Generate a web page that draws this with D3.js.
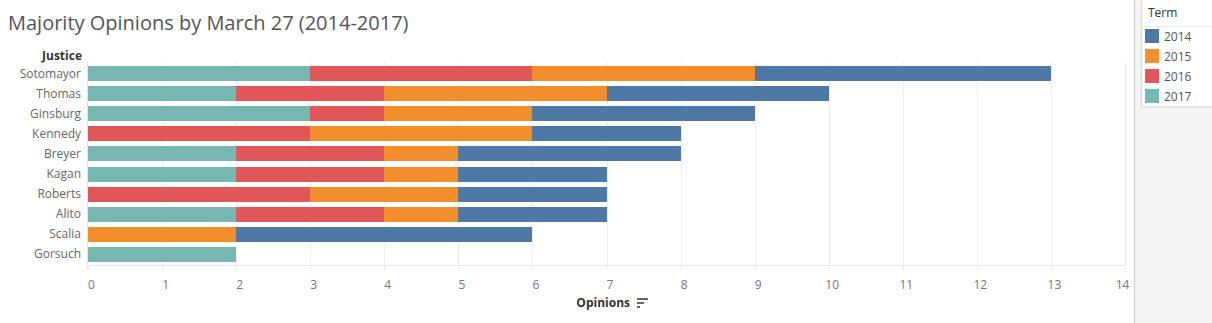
<!DOCTYPE html>
<html>
<head>
<meta charset="utf-8">
<script src="https://d3js.org/d3.v7.min.js"></script>
<style>
  body { margin: 0; background: #fff; }
  svg text { font-family: "Open Sans", "Noto Sans", sans-serif; }
</style>
</head>
<body>
<svg id="chart" width="1212" height="323"></svg>
<script>
"use strict";

// justices, top to bottom
var justices = ["Sotomayor", "Thomas", "Ginsburg", "Kennedy", "Breyer", "Kagan", "Roberts", "Alito", "Scalia", "Gorsuch"];
var terms = ["2014", "2015", "2016", "2017"];
// opinions per term, same order as justices
var t2014 = [4, 3, 3, 2, 3, 2, 2, 2, 4, 0];
var t2015 = [3, 3, 2, 3, 1, 1, 2, 1, 2, 0];
var t2016 = [3, 2, 1, 3, 2, 2, 3, 2, 0, 0];
var t2017 = [3, 2, 3, 0, 2, 2, 0, 2, 0, 2];
var xTicks = d3.range(0, 15);
var termColors = ["#4e79a7", "#f28e2b", "#e15759", "#76b7b2"];

var svg = d3.select("#chart");

// table built from the arrays
var rows = justices.map(function(j, i) {
  return { name: j, "2014": t2014[i], "2015": t2015[i], "2016": t2016[i], "2017": t2017[i] };
});

var color = d3.scaleOrdinal().domain(terms).range(termColors);

var x = d3.scaleLinear().domain([0, 14]).range([88, 1125]);
var y = d3.scaleBand().domain(justices).range([64, 264]).paddingInner(0.25).paddingOuter(0.12);

// stack from left: 2017 first, then 2016, 2015, 2014
var stack = d3.stack().keys(["2017", "2016", "2015", "2014"]);
var series = stack(rows);

// title
svg.append("text")
  .attr("x", 8)
  .attr("y", 30)
  .attr("font-size", "20px")
  .attr("fill", "#555")
  .text("Majority Opinions by March 27 (2014-2017)");

// vertical grid
svg.append("g")
  .selectAll("line")
  .data(xTicks.slice(1))
  .enter()
  .append("line")
  .attr("x1", function(d){ return Math.round(x(d)) + 0.5 })
  .attr("x2", function(d){ return Math.round(x(d)) + 0.5 })
  .attr("y1", 62)
  .attr("y2", 265)
  .attr("stroke", "#efefef");

// left axis line + bottom axis line
svg.append("line")
  .attr("x1", 87.5).attr("x2", 87.5)
  .attr("y1", 62).attr("y2", 270)
  .attr("stroke", "#e6e6e6");
svg.append("line")
  .attr("x1", 88).attr("x2", 1126)
  .attr("y1", 265.5).attr("y2", 265.5)
  .attr("stroke", "#e6e6e6");

// bars
svg.append("g")
  .attr("shape-rendering", "crispEdges")
  .selectAll("g")
  .data(series)
  .enter()
  .append("g")
  .attr("fill", function(d){ return color(d.key) })
  .selectAll("rect")
  .data(function(d){ return d })
  .enter()
  .append("rect")
  .attr("x", function(d){ return Math.round(x(d[0])) })
  .attr("y", function(d){ return Math.round(y(d.data.name)) })
  .attr("width", function(d){ return Math.round(x(d[1])) - Math.round(x(d[0])) })
  .attr("height", Math.round(y.bandwidth()));

// x axis
var xAxis = svg.append("g")
  .attr("transform", "translate(0,266)")
  .call(d3.axisBottom(x).tickValues(xTicks).tickSize(4).tickPadding(10));
xAxis.select(".domain").remove();
xAxis.selectAll("line").attr("stroke", "#e6e6e6");
xAxis.selectAll("text")
  .attr("font-size", "12px")
  .attr("fill", "#777")
  .attr("dx", function(d){ return d == 14 ? -3 : 3 });

// y axis
var yAxis = svg.append("g")
  .attr("transform", "translate(87,0)")
  .call(d3.axisLeft(y).tickSize(0).tickPadding(6));
yAxis.select(".domain").remove();
yAxis.selectAll("text")
  .attr("font-size", "12px")
  .attr("fill", "#666");

// axis titles
svg.append("text")
  .attr("x", 82)
  .attr("y", 60)
  .attr("text-anchor", "end")
  .attr("font-size", "12px")
  .attr("font-weight", "bold")
  .attr("fill", "#333")
  .text("Justice");

svg.append("text")
  .attr("x", 630)
  .attr("y", 307)
  .attr("text-anchor", "end")
  .attr("font-size", "12px")
  .attr("font-weight", "bold")
  .attr("fill", "#333")
  .text("Opinions");

// sort icon
var icon = svg.append("g").attr("transform", "translate(637,298)").attr("fill", "#666");
icon.append("rect").attr("x", 0).attr("y", 0).attr("width", 11).attr("height", 2);
icon.append("rect").attr("x", 0).attr("y", 4).attr("width", 7).attr("height", 2);
icon.append("rect").attr("x", 0).attr("y", 8).attr("width", 3).attr("height", 2);

// side panel
svg.append("rect")
  .attr("x", 1134)
  .attr("y", 0)
  .attr("width", 78)
  .attr("height", 323)
  .attr("fill", "#f5f5f5");
svg.append("line")
  .attr("x1", 1134.5).attr("x2", 1134.5)
  .attr("y1", 0).attr("y2", 323)
  .attr("stroke", "#d0d0d0");

// legend
var legend = svg.append("g").attr("class", "legend");
legend.append("rect")
  .attr("x", 1141.5)
  .attr("y", -1)
  .attr("width", 80)
  .attr("height", 108)
  .attr("fill", "#fff")
  .attr("stroke", "#d4d4d4");
legend.append("line")
  .attr("x1", 1142).attr("x2", 1212)
  .attr("y1", 26.5).attr("y2", 26.5)
  .attr("stroke", "#eeeeee");
legend.append("text")
  .attr("x", 1148)
  .attr("y", 17)
  .attr("font-size", "12px")
  .attr("fill", "#333")
  .text("Term");

var items = legend.selectAll(".oneLegend")
  .data(color.domain())
  .enter()
  .append("g")
  .attr("class", "oneLegend")
  .attr("transform", function(d, i){ return "translate(1145," + (29 + i * 20) + ")" });

items.append("rect")
  .attr("width", 14)
  .attr("height", 14)
  .attr("fill", function(d){ return color(d) });

items.append("text")
  .attr("x", 19)
  .attr("y", 12)
  .attr("font-size", "12px")
  .attr("fill", "#555")
  .text(function(d){ return d });
</script>
</body>
</html>
